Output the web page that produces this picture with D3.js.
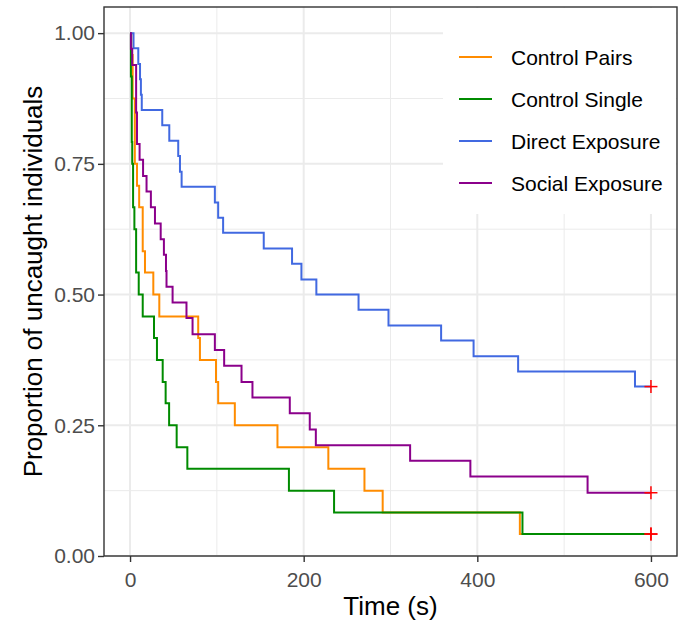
<!DOCTYPE html>
<html>
<head>
<meta charset="utf-8">
<script src="https://cdn.jsdelivr.net/npm/d3@7"></script>
<style>
  html, body { margin: 0; padding: 0; background: #fff; }
  svg { display: block; font-family: "Liberation Sans", Arial, Helvetica, sans-serif; }
</style>
</head>
<body>
<svg id="chart" width="682" height="624"></svg>
<script>
// ---------- data ----------
const groups = ["Control Pairs", "Control Single", "Direct Exposure", "Social Exposure"];
const colors = ["#FF8C00", "#008B00", "#4169E1", "#8B008B"];

const pairsTime = [0, 1.5, 3, 5.5, 8, 10.5, 14.6, 17.2, 26.8, 33.7, 78.5, 80.5, 99, 101.5, 120.7, 169.8, 228.4, 270, 291, 449, 600];
const pairsSurv = [1, 0.958, 0.875, 0.750, 0.708, 0.667, 0.583, 0.542, 0.500, 0.458, 0.417, 0.375, 0.333, 0.292, 0.250, 0.208, 0.167, 0.125, 0.083, 0.042, 0.042];

const singleTime = [0, 1, 2, 2.5, 3.5, 5, 7, 10, 14.6, 27.6, 31, 37.6, 41, 45, 53.7, 66, 183, 235, 452, 600];
const singleSurv = [1, 0.917, 0.792, 0.750, 0.667, 0.625, 0.542, 0.500, 0.458, 0.417, 0.375, 0.333, 0.292, 0.250, 0.208, 0.167, 0.125, 0.083, 0.042, 0.042];

const directTime = [0, 4, 9.5, 11.5, 12.5, 13.5, 37.1, 45.2, 55.5, 57.5, 59.4, 97.7, 101.5, 107.2, 154, 186.6, 197.4, 214.6, 263.2, 297.7, 358.3, 395.7, 447, 581.6, 600];
const directSurv = [1, 0.971, 0.941, 0.912, 0.882, 0.853, 0.824, 0.794, 0.765, 0.735, 0.706, 0.676, 0.647, 0.618, 0.588, 0.559, 0.529, 0.500, 0.471, 0.441, 0.412, 0.382, 0.353, 0.324, 0.324];

const socialTime = [0, 1, 2.5, 7, 8, 11, 15, 19, 24, 28.7, 35.3, 39, 41.4, 42, 49, 65, 72, 97.7, 108.4, 128.4, 141, 184, 207, 214, 322.6, 392, 527, 600];
const socialSurv = [1, 0.970, 0.939, 0.848, 0.788, 0.758, 0.727, 0.697, 0.667, 0.636, 0.606, 0.576, 0.545, 0.515, 0.485, 0.455, 0.424, 0.394, 0.364, 0.333, 0.303, 0.273, 0.242, 0.212, 0.182, 0.152, 0.121, 0.121];

// censored observations (time, survival) per group
const censorTime = [600, 600, 600, 600];
const censorSurv = [0.042, 0.042, 0.324, 0.121];

const xMajor = [0, 200, 400, 600];
const xMinor = [100, 300, 500];
const yMajor = [0, 0.25, 0.5, 0.75, 1];
const yMinor = [0.125, 0.375, 0.625, 0.875];

const xTitle = "Time (s)";
const yTitle = "Proportion of uncaught individuals";

// ---------- build ----------
const seriesTimes = [pairsTime, singleTime, directTime, socialTime];
const seriesSurv = [pairsSurv, singleSurv, directSurv, socialSurv];
const series = groups.map((g, i) => ({
  name: g, color: colors[i],
  pts: seriesTimes[i].map((t, j) => ({ t: t, s: seriesSurv[i][j] })),
  censor: { t: censorTime[i], s: censorSurv[i] }
}));

const svg = d3.select("#chart");
const panel = { left: 104, right: 677, top: 7, bottom: 556 };

const x = d3.scaleLinear().domain([-30, 630]).range([panel.left, panel.right]);
const y = d3.scaleLinear().domain([0, 1.05]).range([panel.bottom, panel.top]);

// panel background
svg.append("rect").attr("x", panel.left).attr("y", panel.top)
  .attr("width", panel.right - panel.left).attr("height", panel.bottom - panel.top)
  .attr("fill", "#fff");

const grid = svg.append("g");
grid.selectAll(".xmin").data(xMinor).enter().append("line")
  .attr("x1", d => x(d)).attr("x2", d => x(d))
  .attr("y1", panel.top).attr("y2", panel.bottom)
  .attr("stroke", "#EBEBEB").attr("stroke-width", 1);
grid.selectAll(".ymin").data(yMinor).enter().append("line")
  .attr("y1", d => y(d)).attr("y2", d => y(d))
  .attr("x1", panel.left).attr("x2", panel.right)
  .attr("stroke", "#EBEBEB").attr("stroke-width", 1);
grid.selectAll(".xmaj").data(xMajor).enter().append("line")
  .attr("x1", d => x(d)).attr("x2", d => x(d))
  .attr("y1", panel.top).attr("y2", panel.bottom)
  .attr("stroke", "#EBEBEB").attr("stroke-width", 2);
grid.selectAll(".ymaj").data(yMajor).enter().append("line")
  .attr("y1", d => y(d)).attr("y2", d => y(d))
  .attr("x1", panel.left).attr("x2", panel.right)
  .attr("stroke", "#EBEBEB").attr("stroke-width", 2);

// KM step lines
const line = d3.line().x(d => x(d.t)).y(d => y(d.s)).curve(d3.curveStepAfter);
const lines = svg.append("g");
series.forEach(s => {
  lines.append("path").datum(s.pts)
    .attr("d", line).attr("fill", "none")
    .attr("stroke", s.color).attr("stroke-width", 2)
    .attr("stroke-linejoin", "miter").attr("stroke-linecap", "butt");
});

// censor marks
const cm = svg.append("g");
series.forEach(s => {
  const cx = x(s.censor.t), cy = y(s.censor.s), r = 6.5;
  cm.append("line").attr("x1", cx - r).attr("x2", cx + r).attr("y1", cy).attr("y2", cy)
    .attr("stroke", "#FF0000").attr("stroke-width", 1.5);
  cm.append("line").attr("x1", cx).attr("x2", cx).attr("y1", cy - r).attr("y2", cy + r)
    .attr("stroke", "#FF0000").attr("stroke-width", 1.5);
});

// legend (inside panel, top-right)
const lg = svg.append("g");
lg.append("rect").attr("x", 443).attr("y", panel.top + 1).attr("width", panel.right - 443 - 1).attr("height", 206)
  .attr("fill", "#fff");
series.forEach((s, i) => {
  const cy = 57 + i * 42;
  lg.append("line").attr("x1", 459).attr("x2", 492).attr("y1", cy).attr("y2", cy)
    .attr("stroke", s.color).attr("stroke-width", 2);
  lg.append("text").attr("x", 511).attr("y", cy + 7.5)
    .attr("font-size", 21).attr("fill", "#000").text(s.name);
});

// panel border
svg.append("rect").attr("x", panel.left).attr("y", panel.top)
  .attr("width", panel.right - panel.left).attr("height", panel.bottom - panel.top)
  .attr("fill", "none").attr("stroke", "#333333").attr("stroke-width", 1.4);

// axes
const yAxis = d3.axisLeft(y).tickValues(yMajor).tickFormat(d3.format(".2f")).tickSize(6).tickPadding(3);
const gy = svg.append("g").attr("transform", `translate(${panel.left},0)`).call(yAxis);
const xAxis = d3.axisBottom(x).tickValues(xMajor).tickFormat(d3.format("d")).tickSize(6).tickPadding(10);
const gx = svg.append("g").attr("transform", `translate(0,${panel.bottom})`).call(xAxis);
[gx, gy].forEach(g => {
  g.select(".domain").remove();
  g.selectAll(".tick line").attr("stroke", "#333333").attr("stroke-width", 1.4);
  g.selectAll(".tick text").attr("fill", "#4D4D4D").attr("font-size", 21)
    .attr("font-family", "'Liberation Sans', Arial, Helvetica, sans-serif");
});

// titles
svg.append("text").attr("x", (panel.left + panel.right) / 2).attr("y", 615)
  .attr("text-anchor", "middle").attr("font-size", 26).attr("fill", "#000").text(xTitle);
svg.append("text").attr("transform", `translate(42,${(panel.top + panel.bottom) / 2}) rotate(-90)`)
  .attr("text-anchor", "middle").attr("font-size", 26).attr("fill", "#000").text(yTitle);
</script>
</body>
</html>
